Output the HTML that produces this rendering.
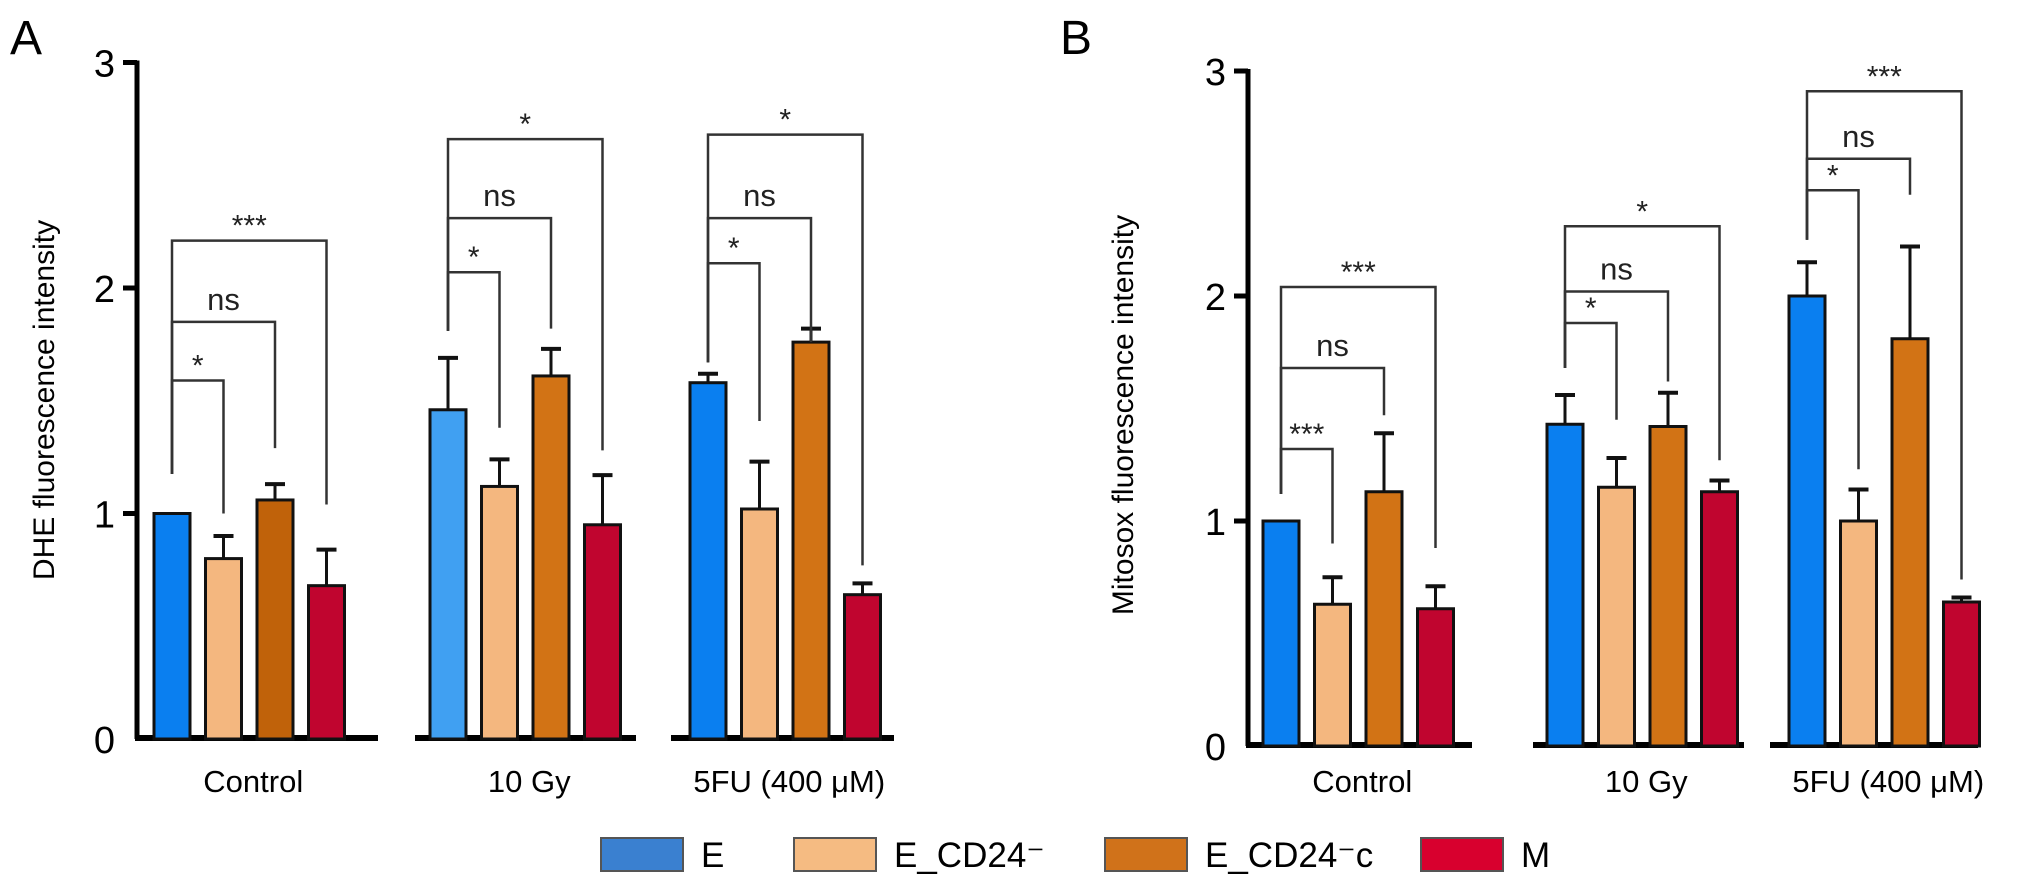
<!DOCTYPE html>
<html><head><meta charset="utf-8">
<style>
html,body{margin:0;padding:0;background:#fff;}
svg{display:block;font-family:"Liberation Sans",Arial,sans-serif;}
</style></head>
<body>
<svg id="chart" width="2032" height="889" viewBox="0 0 2032 889">
  <text x="10" y="54" font-size="48">A</text>
  <text x="1060" y="54" font-size="48">B</text>
  <g id="legend"></g>
</svg>
<script>
const categories = ["Control", "10 Gy", "5FU (400 \u03BCM)"];
const series = ["E", "E_CD24\u207B", "E_CD24\u207Bc", "M"];
const yTicks = [0, 1, 2, 3];
const valuesA = [[1.0, 0.80, 1.06, 0.68], [1.46, 1.12, 1.61, 0.95], [1.58, 1.02, 1.76, 0.64]];
const errorsA = [[0, 0.10, 0.07, 0.16], [0.23, 0.12, 0.12, 0.22], [0.04, 0.21, 0.06, 0.05]];
const valuesB = [[1.0, 0.63, 1.13, 0.61], [1.43, 1.15, 1.42, 1.13], [2.0, 1.0, 1.81, 0.64]];
const errorsB = [[0, 0.12, 0.26, 0.10], [0.13, 0.13, 0.15, 0.05], [0.15, 0.14, 0.41, 0.02]];
// significance brackets: [group, target bar, line level, leg end level, label]
const sigA = [
  [0,1,1.59,1.0,"*"],[0,2,1.85,1.29,"ns"],[0,3,2.21,1.04,"***"],
  [1,1,2.07,1.38,"*"],[1,2,2.31,1.82,"ns"],[1,3,2.66,1.28,"*"],
  [2,1,2.11,1.41,"*"],[2,2,2.31,1.76,"ns"],[2,3,2.68,0.77,"*"]];
const sigLegA = [1.175, 1.81, 1.67];
const sigB = [
  [0,1,1.32,0.90,"***"],[0,2,1.68,1.47,"ns"],[0,3,2.04,0.88,"***"],
  [1,1,1.88,1.45,"*"],[1,2,2.02,1.62,"ns"],[1,3,2.31,1.27,"*"],
  [2,1,2.47,1.23,"*"],[2,2,2.61,2.45,"ns"],[2,3,2.91,0.74,"***"]];
const sigLegB = [1.12, 1.68, 2.25];

const NS = "http://www.w3.org/2000/svg";
const svg = document.getElementById("chart");
function mk(tag, attrs, parent) {
  const e = document.createElementNS(NS, tag);
  for (const k in attrs) e.setAttribute(k, attrs[k]);
  (parent || svg).appendChild(e);
  return e;
}
const colorsA = [["#0a7ff0","#f4b77f","#c0620a","#c0052f"],["#40a0f2","#f4b77f","#d27315","#c0052f"],["#0a7ff0","#f4b77f","#d27315","#c0052f"]];
const colorsB = [["#0a7ff0","#f4b77f","#d27315","#c0052f"],["#0a7ff0","#f4b77f","#d27315","#c0052f"],["#0a7ff0","#f4b77f","#d27315","#c0052f"]];

function panel(cfg) {
  const g = mk("g", {});
  
  
  const y = v => cfg.y0 - v * cfg.unit;
  const ax = mk("line", {x1: cfg.axisX, x2: cfg.axisX, y1: y(3) - 2, y2: y(0), stroke: "#000", "stroke-width": 5}, g);
  
  
  yTicks.forEach(t => {
    if (t > 0) {
      const tk = mk("line", {x1: cfg.axisX - 14, x2: cfg.axisX, y1: y(t), y2: y(t), stroke: "#000", "stroke-width": 5}, g);
      
      
    }
    const tl = mk("text", {x: cfg.axisX - 22, y: y(t) + 14, "font-size": 38, "text-anchor": "end"}, g);
    tl.textContent = t;
    
    
  });
  const tt = mk("text", {x: 0, y: 0, "font-size": 30, "text-anchor": "middle", transform: `translate(${cfg.titleX},${cfg.titleY}) rotate(-90)`}, g);
  tt.textContent = cfg.title;
  
  
  const bw = 36, pitch = 51.5;
  const bx = (gi, si) => cfg.groupX[gi] + si * pitch;
  categories.forEach((cat, gi) => {
    const bl = mk("line", {x1: cfg.baseX[gi][0], x2: cfg.baseX[gi][1], y1: y(0) - 1, y2: y(0) - 1, stroke: "#000", "stroke-width": 6}, g);
    
    
    const cl = mk("text", {x: bx(gi, 0) + (3 * pitch + bw) / 2 + 4, y: 792, "font-size": 31, "text-anchor": "middle"}, g);
    cl.textContent = cat;
    
    
    series.forEach((s, si) => {
      const v = cfg.values[gi][si], e = cfg.errors[gi][si];
      const cx = bx(gi, si) + bw / 2;
      if (e > 0) {
        const el = mk("line", {x1: cx, x2: cx, y1: y(v), y2: y(v + e), stroke: "#111", "stroke-width": 3}, g);
        
        
        const cap = mk("line", {x1: cx - 10, x2: cx + 10, y1: y(v + e), y2: y(v + e), stroke: "#111", "stroke-width": 4}, g);
        
        
      }
      const r = mk("rect", {x: bx(gi, si), y: y(v), width: bw, height: v * cfg.unit, fill: cfg.colors[gi][si], stroke: "#111", "stroke-width": 3}, g);
      
      
    });
  });
  cfg.sig.forEach(sg => {
    const [gi, ti, lvl, end, lab] = sg;
    const x0 = bx(gi, 0) + bw / 2, x1 = bx(gi, ti) + bw / 2;
    const p = mk("polyline", {points: `${x0},${y(cfg.legs[gi])} ${x0},${y(lvl)} ${x1},${y(lvl)} ${x1},${y(end)}`, fill: "none", stroke: "#333", "stroke-width": 2.5}, g);
    
    
    const t = mk("text", {x: (x0 + x1) / 2, y: y(lvl) - (lab === "ns" ? 12 : 5), "font-size": lab === "ns" ? 31 : 30, "text-anchor": "middle", fill: "#222"}, g);
    t.textContent = lab;
    
    
  });
}
panel({name: "panel-a-dhe", axisX: 137, y0: 739, unit: 225.5, title: "DHE fluorescence intensity", titleX: 54, titleY: 400,
  groupX: [154, 430, 690], baseX: [[135, 378], [415, 636], [671, 894]], values: valuesA, errors: errorsA, colors: colorsA, sig: sigA, legs: sigLegA});
panel({name: "panel-b-mitosox", axisX: 1248, y0: 746, unit: 225, title: "Mitosox fluorescence intensity", titleX: 1133, titleY: 415,
  groupX: [1263, 1547, 1789], baseX: [[1246, 1472], [1533, 1744], [1770, 1978]], values: valuesB, errors: errorsB, colors: colorsB, sig: sigB, legs: sigLegB});

const legendColors = ["#3a80d0", "#f5bb82", "#d0721a", "#d8002e"];
const legendBoxX = [601, 794, 1105, 1421];
const lg = document.getElementById("legend");
series.forEach((s, i) => {
  const r = mk("rect", {x: legendBoxX[i], y: 838, width: 82, height: 33, fill: legendColors[i], stroke: "#555", "stroke-width": 2}, lg);
  
  
  const t = mk("text", {x: legendBoxX[i] + 100, y: 867, "font-size": 35}, lg);
  t.textContent = s;
  
  
});
</script>
</body></html>
